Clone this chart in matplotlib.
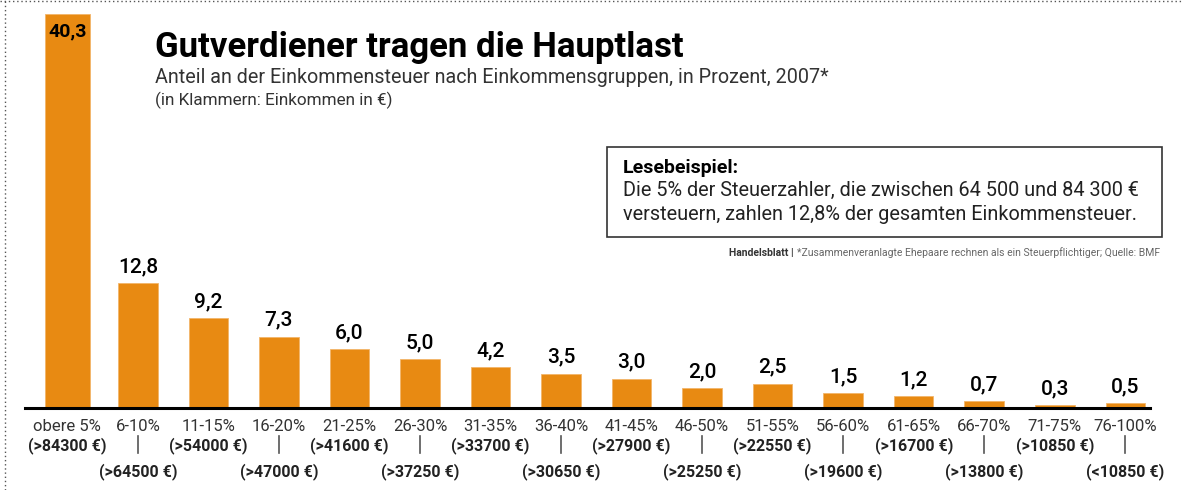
import matplotlib.pyplot as plt
from matplotlib.lines import Line2D
from matplotlib.patches import Rectangle

# Data
groups = ["obere 5%", "6-10%", "11-15%", "16-20%", "21-25%", "26-30%", "31-35%", "36-40%",
          "41-45%", "46-50%", "51-55%", "56-60%", "61-65%", "66-70%", "71-75%", "76-100%"]
incomes = ["(>84300 €)", "(>64500 €)", "(>54000 €)", "(>47000 €)", "(>41600 €)", "(>37250 €)",
           "(>33700 €)", "(>30650 €)", "(>27900 €)", "(>25250 €)", "(>22550 €)", "(>19600 €)",
           "(>16700 €)", "(>13800 €)", "(>10850 €)", "(<10850 €)"]
shares = [40.3, 12.8, 9.2, 7.3, 6.0, 5.0, 4.2, 3.5, 3.0, 2.0, 2.5, 1.5, 1.2, 0.7, 0.3, 0.5]

ORANGE = "#E88A12"
FONT = "Roboto"

W, H = 1182, 490
fig = plt.figure(figsize=(W / 100, H / 100), dpi=100)

# axes: baseline at y=408 px, top of tallest bar at y=14 px
ax_left, ax_right = 25, 1150
ax_bottom, ax_top = 408, 14
ax = fig.add_axes([ax_left / W, 1 - ax_bottom / H, (ax_right - ax_left) / W, (ax_bottom - ax_top) / H])

x = list(range(len(shares)))
widths = [0.64] + [0.56] * (len(shares) - 1)
ax.bar(x, shares, width=widths, color=ORANGE, edgecolor="#F2B56A", linewidth=0.6)
ax.set_xlim(-0.6, 15.35)
ax.set_ylim(0, 40.3)
for s in ["top", "left", "right"]:
    ax.spines[s].set_visible(False)
ax.spines["bottom"].set_linewidth(2.2)
ax.set_yticks([])
ax.set_xticks([])

for i, v in enumerate(shares):
    lbl = f"{v:.1f}".replace(".", ",")
    if i == 0:
        ax.text(i, v - 0.9, lbl, ha="center", va="top", fontsize=14, fontweight="bold",
                family=FONT, color="black")
    else:
        ax.annotate(lbl, (i, v), xytext=(0, 5), textcoords="offset points", ha="center",
                    va="bottom", fontsize=15, fontweight="medium", family=FONT, color="black")

# category labels below axis, income labels staggered
for i, (g, inc) in enumerate(zip(groups, incomes)):
    ax.annotate(g, (i, 0), xytext=(0, -8), textcoords="offset points", ha="center", va="top",
                fontsize=12, family=FONT, color="#333333", annotation_clip=False)
    if i % 2 == 0:
        ax.annotate(inc, (i, 0), xytext=(0, -21), textcoords="offset points", ha="center",
                    va="top", fontsize=11.5, fontweight="bold", family=FONT, color="#222222",
                    annotation_clip=False)
    else:
        xp = ax.transData.transform((i, 0))[0] / W
        fig.add_artist(Line2D([xp, xp], [1 - 436 / H, 1 - 453 / H], color="#555555", lw=1.2))
        ax.annotate(inc, (i, 0), xytext=(0, -40), textcoords="offset points", ha="center",
                    va="top", fontsize=11.5, fontweight="bold", family=FONT, color="#222222",
                    annotation_clip=False)

# titles
fig.text(155 / W, 1 - 57 / H, "Gutverdiener tragen die Hauptlast", fontsize=25, fontweight="bold",
         family=FONT, color="black", va="baseline")
fig.text(155 / W, 1 - 83 / H, "Anteil an der Einkommensteuer nach Einkommensgruppen, in Prozent, 2007*",
         fontsize=14.2, family=FONT, color="#333333", va="baseline")
fig.text(155 / W, 1 - 105 / H, "(in Klammern: Einkommen in €)", fontsize=12.3, family=FONT,
         color="#333333", va="baseline")

# reading example box
fig.add_artist(Rectangle((607 / W, 1 - 237 / H), (1162 - 607) / W, 90 / H, fill=False,
                         edgecolor="#333333", lw=1.2, transform=fig.transFigure))
fig.text(623 / W, 1 - 173 / H, "Lesebeispiel:", fontsize=14, fontweight="bold", family=FONT,
         color="black", va="baseline")
fig.text(623 / W, 1 - 196 / H, "Die 5% der Steuerzahler, die zwischen 64 500 und 84 300 €",
         fontsize=14.3, family=FONT, color="#222222", va="baseline")
fig.text(623 / W, 1 - 220 / H, "versteuern, zahlen 12,8% der gesamten Einkommensteuer.",
         fontsize=14.3, family=FONT, color="#222222", va="baseline")

# source line
src = fig.text(1160 / W, 1 - 256 / H,
               "*Zusammenveranlagte Ehepaare rechnen als ein Steuerpflichtiger; Quelle: BMF",
               fontsize=7.5, family=FONT, color="#666666", ha="right", va="baseline")
fig.canvas.draw()
bb = src.get_window_extent()
fig.text(bb.x0 / W - 3 / W, 1 - 256 / H, "Handelsblatt |", fontsize=7.5, fontweight="bold",
         family=FONT, color="#333333", ha="right", va="baseline")

# dotted frame (top and left)
fig.add_artist(Line2D([0, 1], [1 - 1.5 / H, 1 - 1.5 / H], color="#555555", lw=1, ls=(0, (1, 2))))
fig.add_artist(Line2D([5 / W, 5 / W], [0, 1], color="#555555", lw=1, ls=(0, (1, 2))))

fig.savefig("out.png", dpi=100)
